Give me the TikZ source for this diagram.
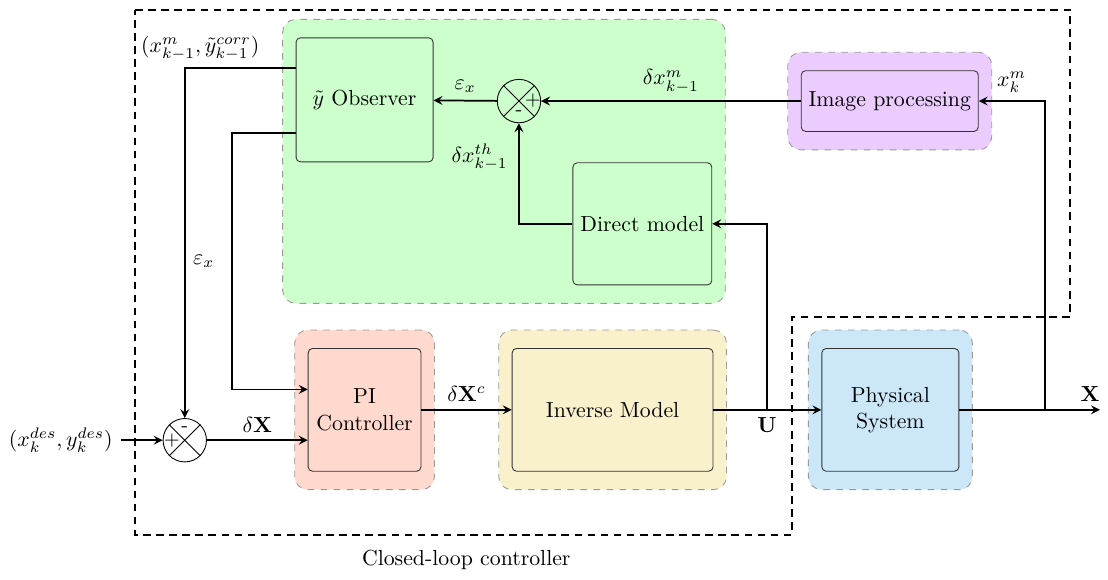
\documentclass[tikz,border=0pt]{standalone}
\usetikzlibrary{positioning,fit,backgrounds,arrows}

\definecolor{obsgreen}{RGB}{204,255,204}
\definecolor{pipink}{RGB}{255,216,206}
\definecolor{invyellow}{RGB}{249,240,204}
\definecolor{sysblue}{RGB}{204,232,248}
\definecolor{imgpurple}{RGB}{236,204,255}

\begin{document}
\begin{tikzpicture}[>=stealth,thick,
	block/.style={draw=black!80,thin,rounded corners=2pt,align=center,fill=#1},
	region/.style={draw=black!40,thin,dashed,rounded corners=6pt,fill=#1,
		inner xsep=0.21cm,inner ysep=0.29cm},
	sum/.style={draw,thin,circle,minimum size=0.7cm,inner sep=0pt},
	sign/.style={inner sep=0pt,font=\small}]
	
	\useasboundingbox (0,0) rectangle (17.87,9.34);
	
	% Blocks
	\node[block=obsgreen,minimum width=2.21cm,minimum height=2cm] (obs) at (5.88,7.73) {$\tilde{y}$ Observer};
	\node[sum] (sumobs) at (8.37,7.71) {};
	\node[block=obsgreen,minimum width=2.24cm,minimum height=1.97cm] (direct) at (10.36,5.73) {Direct model};
	\node[block=imgpurple,minimum width=2.84cm,minimum height=0.98cm] (img) at (14.35,7.71) {Image processing};
	\node[block=pipink,minimum width=1.82cm,minimum height=1.98cm] (pi) at (5.88,2.73) {PI\\Controller};
	\node[block=invyellow,minimum width=3.24cm,minimum height=1.98cm] (inv) at (9.88,2.73) {Inverse Model};
	\node[block=sysblue,minimum width=2.21cm,minimum height=1.98cm] (sys) at (14.36,2.73) {Physical\\System};
	\node[sum] (sumin) at (2.98,2.24) {};
	\node (des) at (0.98,2.24) {$(x_k^{des},y_k^{des})$};
	\coordinate (ubranch) at (12.37,2.73);
	\coordinate (xbranch) at (16.85,2.73);
	\coordinate (xout) at (17.74,2.73);
	
	% Coloured regions
	\begin{scope}[on background layer]
		\node[region=obsgreen,fit=(obs)(direct)] (obsreg) {};
		\node[region=imgpurple,fit=(img)] (imgreg) {};
		\node[region=pipink,fit=(pi)] (pireg) {};
		\node[region=invyellow,fit=(inv)] (invreg) {};
		\node[region=sysblue,fit=(sys)] (sysreg) {};
	\end{scope}
	
	% Summing junctions
	\draw[thin] (sumobs.north west) -- (sumobs.south east) (sumobs.north east) -- (sumobs.south west);
	\draw[thin] (sumin.north west) -- (sumin.south east) (sumin.north east) -- (sumin.south west);
	\node[sign] (sumobsplus) at ([xshift=-0.13cm]sumobs.east) {$+$};
	\node[sign] (sumobsminus) at ([yshift=0.16cm]sumobs.south) {-};
	\node[sign] (suminplus) at ([xshift=0.15cm]sumin.west) {$+$};
	\node[sign] (suminminus) at ([yshift=-0.17cm]sumin.north) {-};
	
	% Forward path
	\draw[->] (des) -- (sumin);
	\draw[->] (sumin.east) -- node[above]{$\delta\mathbf{X}$} (sumin.east -| pi.west);
	\draw[->] (pi) -- node[above]{$\delta\mathbf{X}^c$} (inv);
	\draw[->] (inv) -- (sys);
	\draw[->] (sys) -- (xout) node[pos=0.93,above]{$\mathbf{X}$};
	\node[below=0pt of ubranch] (ulabel) {$\mathbf{U}$};
	
	% Measurement and model
	\draw[->] (xbranch) |- (img.east) node[pos=0.75,above]{$x_k^m$};
	\draw[->] (img) -- node[above]{$\delta x_{k-1}^m$} (sumobs);
	\draw[->] (ubranch) |- (direct.east);
	\draw[->] (direct.west) -| node[pos=0.83,left=0.05cm]{$\delta x_{k-1}^{th}$} (sumobs.south);
	\draw[->] (sumobs) -- node[above]{$\varepsilon_x$} (obs);
	
	% Observer outputs
	\draw[->] ([yshift=0.51cm]obs.west) -| node[pos=0.5,above,xshift=0.25cm]{$(x_{k-1}^m,\tilde{y}_{k-1}^{corr})$} (sumin.north);
	\draw[->] ([yshift=-0.54cm]obs.west) -- ++(-1.03,0) |- node[pos=0.25,left=0.15cm]{$\varepsilon_x$} ([yshift=0.33cm]pi.west);
	
	% Closed-loop controller boundary
	\draw[thick,dash pattern=on 3.5pt off 2.5pt] (2.18,9.18) -- (17.26,9.18) -- (17.26,4.23) -- (12.77,4.23) -- (12.77,0.71) -- (2.18,0.71) -- cycle;
	\node (cllabel) at (7.52,0.31) {Closed-loop controller};
	
\end{tikzpicture}
\end{document}
